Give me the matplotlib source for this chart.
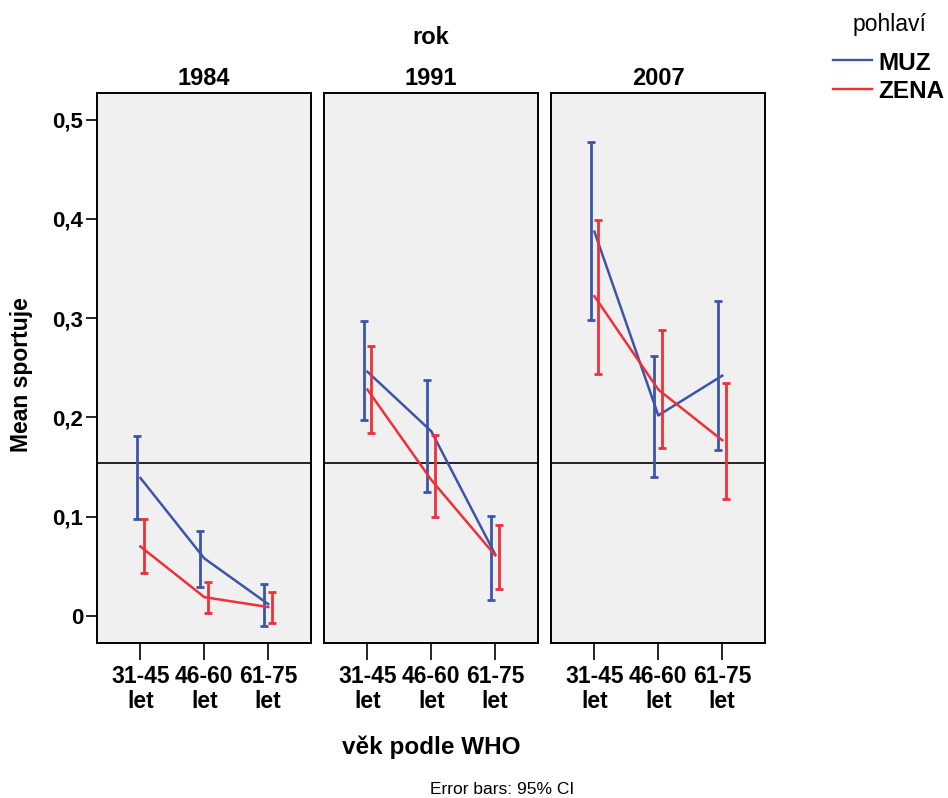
import matplotlib
matplotlib.use("Agg")
import matplotlib.pyplot as plt
from matplotlib.lines import Line2D
import numpy as np

plt.rcParams['font.family'] = ['Liberation Sans', 'DejaVu Sans']

years = ['1984', '1991', '2007']
age_groups = ['31-45\nlet', '46-60\nlet', '61-75\nlet']
series = ['MUZ', 'ZENA']
colors = {'MUZ': '#3D55A8', 'ZENA': '#EE3039'}

mean_muz = {'1984': [0.139, 0.058, 0.012], '1991': [0.246, 0.186, 0.062], '2007': [0.387, 0.202, 0.242]}
lo_muz   = {'1984': [0.098, 0.029, -0.010], '1991': [0.197, 0.125, 0.016], '2007': [0.298, 0.140, 0.167]}
hi_muz   = {'1984': [0.181, 0.086, 0.032], '1991': [0.297, 0.238, 0.101], '2007': [0.477, 0.262, 0.317]}

mean_zena = {'1984': [0.070, 0.019, 0.009], '1991': [0.228, 0.137, 0.061], '2007': [0.322, 0.228, 0.177]}
lo_zena   = {'1984': [0.043, 0.003, -0.007], '1991': [0.184, 0.100, 0.027], '2007': [0.244, 0.169, 0.118]}
hi_zena   = {'1984': [0.098, 0.034, 0.024], '1991': [0.272, 0.182, 0.092], '2007': [0.399, 0.288, 0.235]}

overall_mean = 0.1544

data = {'MUZ': (mean_muz, lo_muz, hi_muz), 'ZENA': (mean_zena, lo_zena, hi_zena)}
offsets = {'MUZ': -0.06, 'ZENA': 0.06}

fig = plt.figure(figsize=(9.48, 7.98), dpi=100)
W, H = 948, 798
lefts = [97, 324, 551]
pw = 214
top, bottom = 93, 643

x = np.arange(len(age_groups))
axes = []
for i, yr in enumerate(years):
    ax = fig.add_axes([lefts[i] / W, 1 - bottom / H, pw / W, (bottom - top) / H])
    axes.append(ax)
    ax.set_facecolor('#F0F0F0')
    for s in series:
        m, lo, hi = data[s]
        mv = np.array(m[yr]); lv = np.array(lo[yr]); hv = np.array(hi[yr])
        ax.plot(x, mv, color=colors[s], lw=1.8, zorder=3)
        ax.errorbar(x + offsets[s], mv, yerr=[mv - lv, hv - mv], fmt='none',
                    ecolor=colors[s], elinewidth=2.0, capsize=3.2, capthick=2.0, zorder=3)
    ax.axhline(overall_mean, color='black', lw=1.2, zorder=2)
    ax.set_xlim(-0.68, 2.67)
    ax.set_ylim(-0.0272, 0.5267)
    ax.set_xticks(x)
    ax.set_xticklabels(age_groups, fontsize=16.5, fontweight='bold', linespacing=1.08)
    ax.tick_params(axis='x', length=12, width=1.2, pad=4)
    for sp in ax.spines.values():
        sp.set_linewidth(1.4)
    ax.text(0.5, 1 - (78.5 - top) / (bottom - top), yr, transform=ax.transAxes,
            fontsize=17, fontweight='bold', ha='center', va='center')
    if i == 0:
        ax.set_yticks([0, 0.1, 0.2, 0.3, 0.4, 0.5])
        ax.set_yticklabels(['0', '0,1', '0,2', '0,3', '0,4', '0,5'], fontsize=16, fontweight='bold')
        ax.tick_params(axis='y', length=8, width=1.2, pad=2)
    else:
        ax.set_yticks([])

fig.text(22 / W, 1 - 375 / H, 'Mean sportuje', fontsize=16.5, fontweight='bold',
         ha='center', va='center', rotation=90)
fig.text(431 / W, 1 - 38 / H, 'rok', fontsize=17, fontweight='bold', ha='center', va='center')
fig.text(431 / W, 1 - 747 / H, 'věk podle WHO', fontsize=17.5, fontweight='bold', ha='center', va='center')
fig.text(502 / W, 1 - 789 / H, 'Error bars: 95% CI', fontsize=12.5, ha='center', va='center')

# legend
fig.text(889 / W, 1 - 25 / H, 'pohlaví', fontsize=16.5, ha='center', va='center')
for s, yl, yt in zip(series, [60, 89], [64, 92]):
    fig.add_artist(Line2D([833 / W, 872 / W], [1 - yl / H, 1 - yl / H], color=colors[s], lw=1.7,
                          transform=fig.transFigure))
    fig.text(878 / W, 1 - yt / H, s, fontsize=17.5, fontweight='bold', ha='left', va='center')

fig.savefig('out.png', dpi=100)
